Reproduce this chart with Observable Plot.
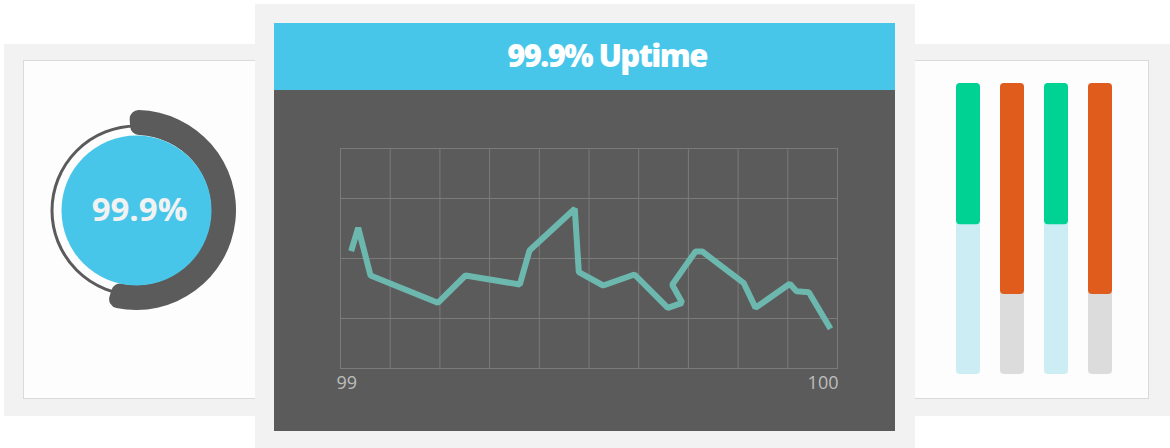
<!DOCTYPE html>
<html><head><meta charset="utf-8">
<script src="https://cdn.jsdelivr.net/npm/d3@7"></script>
<script src="https://cdn.jsdelivr.net/npm/@observablehq/plot@0.6"></script>
<style>
html,body{margin:0;padding:0;background:#fff;width:1170px;height:448px;overflow:hidden;font-family:"Open Sans",sans-serif;}
.abs{position:absolute;box-sizing:border-box;}
#leftOuter{left:4px;top:44px;width:260px;height:372px;background:#f2f2f2;}
#leftCard{left:23px;top:60px;width:240px;height:339px;background:#fdfdfd;border:1px solid #dadada;}
#rightOuter{left:905px;top:44px;width:265px;height:372px;background:#f2f2f2;}
#rightCard{left:905px;top:60px;width:244px;height:339px;background:#fdfdfd;border:1px solid #dadada;}
#center{left:255px;top:4px;width:660px;height:444px;background:#f2f2f2;}
#header{left:274px;top:23px;width:621px;height:67px;background:#48c6ea;color:#fff;font-weight:800;font-size:31px;letter-spacing:-1.6px;text-align:center;line-height:64px;padding-left:45px;}
#dark{left:274px;top:90px;width:621px;height:341px;background:#5b5b5b;}
#leftPlot{left:23px;top:60px;}
#linePlot{left:274px;top:90px;}
#barPlot{left:915px;top:60px;}
</style>
</head><body>
<div id="leftOuter" class="abs"></div>
<div id="leftCard" class="abs"></div>
<div id="rightOuter" class="abs"></div>
<div id="rightCard" class="abs"></div>
<div id="leftPlot" class="abs"></div>
<div id="barPlot" class="abs"></div>
<div id="center" class="abs"></div>
<div id="header" class="abs"></div>
<div id="dark" class="abs"></div>
<div id="linePlot" class="abs"></div>
<script>
// ---------- data ----------
const title = "99.9% Uptime";
const gaugeLabel = "99.9%";
const gaugeStartDeg = -4;   // arc start (degrees clockwise from top)
const gaugeEndDeg = 197;    // arc end

const uptimeX = [99.0215, 99.0356, 99.0604, 99.1958, 99.2515, 99.3608, 99.3803, 99.4714, 99.4795,
                 99.5286, 99.5915, 99.6586, 99.6875, 99.6674, 99.7143, 99.7278, 99.8115, 99.8350,
                 99.9040, 99.9175, 99.9423, 99.9859];
const uptimeY = [11.73, 14.07, 9.30, 6.57, 9.30, 8.40, 11.80, 15.97, 9.63,
                 8.30, 9.40, 6.07, 6.57, 8.37, 11.70, 11.70, 8.53, 6.07,
                 8.47, 7.73, 7.63, 3.97];
const xGridTicks = [99, 99.1, 99.2, 99.3, 99.4, 99.5, 99.6, 99.7, 99.8, 99.9, 100];
const yGridTicks = [5, 11, 17];
const xEndLabels = [99, 100];

const barNames = ["Bar 1", "Bar 2", "Bar 3", "Bar 4"];
const barKinds = ["Uptime", "Load", "Uptime", "Load"];
const barValues = [48.5, 72.5, 48.5, 72.5];

document.getElementById("header").textContent = title;

// ---------- tables ----------
const uptime = uptimeX.map((x, i) => ({x, y: uptimeY[i]}));
const bars = barNames.map((name, i) => ({name, kind: barKinds[i], value: barValues[i]}));
const gauge = [{x: 0, y: 0, label: gaugeLabel}];

// ---------- left gauge ----------
function gaugeArc(index, scales) {
  const cx = scales && scales.x ? scales.x(0) : 113;
  const cy = scales && scales.y ? scales.y(0) : 150;
  const arc = d3.arc().innerRadius(75).outerRadius(100).cornerRadius(9)
    .startAngle(gaugeStartDeg * Math.PI / 180).endAngle(gaugeEndDeg * Math.PI / 180);
  return d3.create("svg:path").attr("d", arc()).attr("fill", "#5b5b5b")
    .attr("transform", `translate(${cx},${cy})`).node();
}
const left = Plot.plot({
  width: 232, height: 338, margin: 0,
  x: {domain: [-113, 119], axis: null},
  y: {domain: [-188, 150], axis: null},
  style: {background: "transparent", overflow: "visible"},
  marks: [
    Plot.dot(gauge, {x: "x", y: "y", r: 84.5, stroke: "#5b5b5b", strokeWidth: 3, fill: "none"}),
    gaugeArc,
    Plot.dot(gauge, {x: "x", y: "y", r: 75, fill: "#48c6ea", stroke: "none"}),
    Plot.text(gauge, {x: "x", y: "y", text: "label", fill: "#f2f2f2", fontSize: 33, fontWeight: 700,
      fontFamily: "Open Sans", dx: 3, dy: 0, letterSpacing: "-1.2px"})
  ]
});
document.getElementById("leftPlot").append(left);

// ---------- center line chart ----------
const lineChart = Plot.plot({
  width: 621, height: 341, marginLeft: 66, marginRight: 58, marginTop: 58, marginBottom: 63,
  style: {background: "transparent", overflow: "visible", fontFamily: "Open Sans"},
  x: {domain: [99, 100], axis: null},
  y: {domain: [0, 22], axis: null},
  marks: [
    Plot.ruleX(xGridTicks, {stroke: "#7b7b7b", strokeWidth: 1}),
    Plot.ruleY(yGridTicks, {stroke: "#7b7b7b", strokeWidth: 1}),
    Plot.frame({stroke: "#7b7b7b"}),
    Plot.line(uptime, {x: "x", y: "y", stroke: "#6cb8ae", strokeWidth: 6, strokeLinejoin: "miter", strokeLinecap: "butt"}),
    Plot.text([xEndLabels[0]], {x: d => d, frameAnchor: "bottom", dy: 20, dx: -4, textAnchor: "start",
      fill: "#bdbdbd", fontSize: 18, fontWeight: 400, text: d => String(d)}),
    Plot.text([xEndLabels[1]], {x: d => d, frameAnchor: "bottom", dy: 20, dx: 1, textAnchor: "end",
      fill: "#bdbdbd", fontSize: 18, fontWeight: 400, text: d => String(d)})
  ]
});
document.getElementById("linePlot").append(lineChart);

// ---------- right bars ----------
const trackColor = {Uptime: "#ccedf4", Load: "#dcdcdc"};
const barChart = Plot.plot({
  width: 233, height: 339, marginLeft: 40, marginRight: 35, marginTop: 23, marginBottom: 25,
  style: {background: "transparent", overflow: "visible"},
  x: {domain: barNames, paddingInner: 0.463, paddingOuter: 0, axis: null},
  y: {domain: [0, 100], axis: null},
  color: {domain: ["Uptime", "Load"], range: ["#00d294", "#e05c1c"]},
  marks: [
    Plot.barY(bars.filter(d => d.kind === "Uptime"), {x: "name", y1: d => 0, y2: d => 100, fill: trackColor.Uptime, rx: 4}),
    Plot.barY(bars.filter(d => d.kind === "Load"), {x: "name", y1: d => 0, y2: d => 100, fill: trackColor.Load, rx: 4}),
    Plot.barY(bars, {x: "name", y1: d => 100 - d.value, y2: d => 100, fill: "kind", rx: 4})
  ]
});
document.getElementById("barPlot").append(barChart);
</script>
</body></html>
